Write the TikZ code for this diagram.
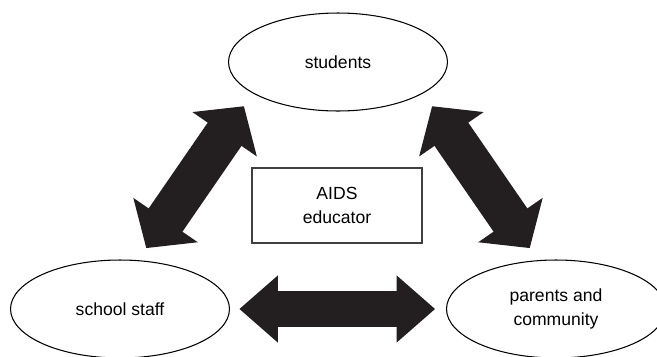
\documentclass[tikz,border=0pt]{standalone}
\usepackage{fontspec}
\setmainfont{Liberation Sans}
\usetikzlibrary{arrows.meta,shapes.geometric}
\definecolor{arrowblack}{HTML}{231F20}
\tikzset{
  group/.style={draw, ellipse, line width=0.6pt, minimum width=4.38cm, minimum height=1.96cm,
    inner sep=0pt, outer sep=0pt, align=center, font=\fontsize{10}{14}\selectfont},
  educatorbox/.style={draw=black!75, line width=0.6pt, minimum width=3.4cm, minimum height=1.5cm,
    inner sep=0pt, align=center, font=\fontsize{10}{14}\selectfont},
  diaglink/.style={draw=arrowblack, line width=0.82cm,
    {Triangle[length=0.68cm, width=1.56cm, line width=1pt]}-{Triangle[length=0.68cm, width=1.56cm, line width=1pt]}},
  flatlink/.style={draw=arrowblack, line width=0.72cm,
    {Triangle[length=0.77cm, width=1.34cm, line width=1pt]}-{Triangle[length=0.77cm, width=1.34cm, line width=1pt]}}
}
\begin{document}
\begin{tikzpicture}[x=0.02cm, y=-0.02cm]
            \useasboundingbox (0,0) rectangle (657,356);

            %Nodes
            \node[group] (students) at (338,62) {students};
            \node[group] (staff) at (120,309) {school staff};
            \node[group] (parents) at (556,309) {parents and\\community};
            \node[educatorbox] (educator) at (337,205.5) {AIDS\\educator};

            %Arrows
            \draw[diaglink, shorten <=0.306cm, shorten >=0.324cm] (staff.70) -- (students.200);
            \draw[diaglink, shorten <=0.306cm, shorten >=0.324cm] (parents.110) -- (students.340);
            \draw[flatlink, shorten <=0.2cm, shorten >=0.23cm] (staff.east) -- (parents.west);
\end{tikzpicture}
\end{document}
